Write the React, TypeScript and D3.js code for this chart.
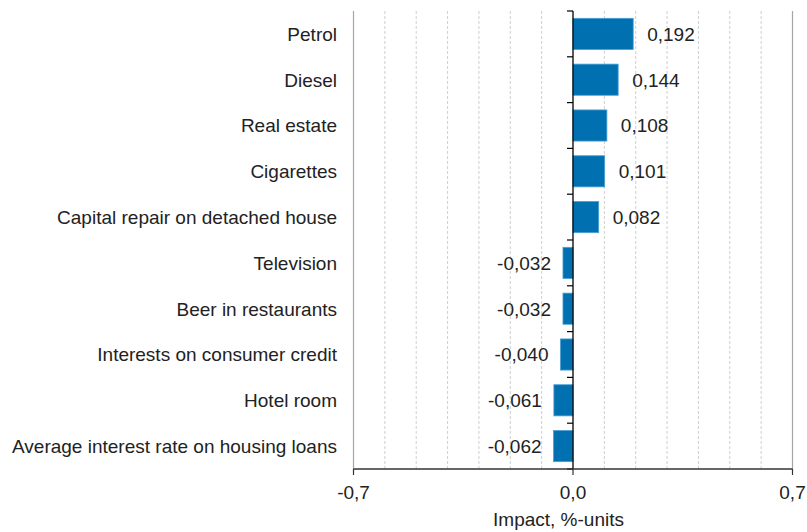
import React from 'react';
import * as d3 from 'd3';

const width = 807;
const height = 532;

const categories = [
  'Petrol',
  'Diesel',
  'Real estate',
  'Cigarettes',
  'Capital repair on detached house',
  'Television',
  'Beer in restaurants',
  'Interests on consumer credit',
  'Hotel room',
  'Average interest rate on housing loans'
];
const impacts = [0.192, 0.144, 0.108, 0.101, 0.082, -0.032, -0.032, -0.04, -0.061, -0.062];
const axisTicks = [-0.7, 0, 0.7];
const gridValues = d3.range(-6, 7).filter(i => i !== 0).map(i => i / 10);

const margin = { top: 11, right: 14.5, bottom: 63, left: 353.5 };
const font = 'Arial, "Liberation Sans", sans-serif';

const fmt = (v: number, digits: number) => d3.format(`.${digits}f`)(v).replace('.', ',').replace('−', '-');

const App = () => {
  const x = d3
    .scaleLinear()
    .domain([-0.7, 0.7])
    .range([margin.left, width - margin.right]);
  const y = d3
    .scaleBand()
    .domain(categories)
    .range([margin.top, height - margin.bottom])
    .paddingInner(0.32)
    .paddingOuter(0.16);

  const top = margin.top;
  const bottom = height - margin.bottom;
  const step = y.step();
  const boundaries = d3.range(categories.length + 1).map(i => top + i * step);

  return (
    <svg width={width} height={height} style={{ position: 'absolute', left: 0, top: 0 }} fontFamily={font}>
      <rect width={width} height={height} fill="#fff" />

      {/* gridlines */}
      {gridValues.map(v => (
        <line key={v} x1={x(v)} x2={x(v)} y1={top} y2={bottom} stroke="#cfcfcf" strokeDasharray="3,2" />
      ))}
      {[-0.7, 0.7].map(v => (
        <line key={v} x1={x(v)} x2={x(v)} y1={top} y2={bottom} stroke="#a6a6a6" strokeWidth={1.2} />
      ))}

      {/* bars */}
      {categories.map((c, i) => {
        const v = impacts[i];
        const x0 = x(Math.min(0, v));
        const x1 = x(Math.max(0, v));
        const cy = (y(c) as number) + y.bandwidth() / 2;
        return (
          <g key={c}>
            <rect
              x={x0}
              y={y(c)}
              width={x1 - x0}
              height={y.bandwidth()}
              fill="#0070b0"
              stroke="#4a9fd4"
              strokeWidth={0.8}
            />
            <text
              x={v >= 0 ? x1 + 14 : x0 - 12}
              y={cy}
              dy="0.36em"
              textAnchor={v >= 0 ? 'start' : 'end'}
              fontSize={19}
              fill="#222"
            >
              {fmt(v, 3)}
            </text>
            <text x={337} y={cy} dy="0.36em" textAnchor="end" fontSize={19} fill="#222">
              {c}
            </text>
          </g>
        );
      })}

      {/* zero axis */}
      <line x1={x(0)} x2={x(0)} y1={top} y2={bottom} stroke="#000" strokeWidth={1.3} />
      {boundaries.map(b => (
        <line key={b} x1={x(0) - 6} x2={x(0)} y1={b} y2={b} stroke="#000" strokeWidth={1.2} />
      ))}

      {/* bottom axis */}
      <line x1={x(-0.7)} x2={x(0.7)} y1={bottom} y2={bottom} stroke="#333" strokeWidth={1.3} />
      {axisTicks.map(t => (
        <g key={t}>
          <line x1={x(t)} x2={x(t)} y1={bottom} y2={bottom + 6} stroke="#333" strokeWidth={1.2} />
          <text x={x(t)} y={bottom + 23} dy="0.36em" textAnchor="middle" fontSize={19} fill="#222">
            {fmt(t, 1)}
          </text>
        </g>
      ))}
      <text x={558.5} y={519} dy="0.36em" textAnchor="middle" fontSize={19} fill="#222">
        Impact, %-units
      </text>
    </svg>
  );
};

export default App;
